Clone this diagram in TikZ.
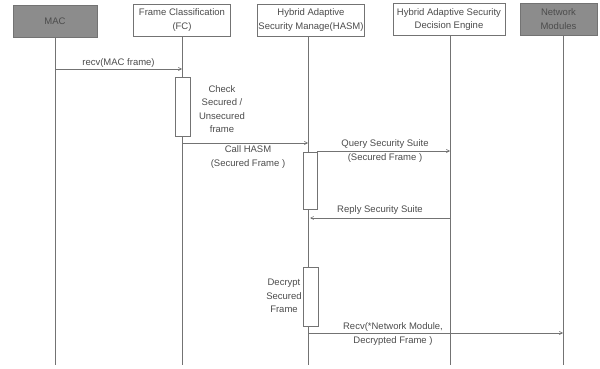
\documentclass[tikz,border=0pt]{standalone}
\usepackage{fontspec}
\setmainfont{Liberation Sans}
\usetikzlibrary{arrows.meta}
\definecolor{ln}{gray}{0.45}
\definecolor{tx}{gray}{0.3}
\definecolor{dk}{gray}{0.55}
\begin{document}
\begin{tikzpicture}[x=1pt,y=-1pt,
  hdr/.style={draw=ln,fill=white,minimum height=32pt,align=center,font=\fontsize{9.5}{13.5}\selectfont,text=tx,inner sep=1pt},
  hdrdark/.style={hdr,fill=dk},
  life/.style={draw=ln,line width=0.6pt},
  act/.style={draw=ln,fill=white,line width=0.6pt},
  msg/.style={draw=ln,line width=0.6pt,-{Straight Barb[length=3pt,width=3pt]}},
  lbl/.style={font=\fontsize{9.5}{13.5}\selectfont,text=tx,align=center,inner sep=0pt}]
\useasboundingbox (0,0) rectangle (600,369);
% headers
\node[hdrdark,minimum width=84pt] (mac) at (55,21.5) {MAC};
\node[hdr,minimum width=97pt] (fc) at (182,20) {Frame Classification\\(FC)};
\node[hdr,minimum width=107pt] (hasm) at (311,20) {Hybrid Adaptive\\Security Manage(HASM)};
\node[hdr,minimum width=112pt] (de) at (449,19.5) {Hybrid Adaptive Security\\Decision Engine};
\node[hdrdark,minimum width=77pt] (nm) at (558.5,19) {Network\\Modules};
% lifeline ends
\coordinate (macE) at (55,365);
\coordinate (fcE) at (182,365);
\coordinate (hasmE) at (308,365);
\coordinate (deE) at (450,365);
\coordinate (nmE) at (563,365);
\draw[life] (mac.south) -- (macE);
\draw[life] (fc.south) -- (fcE);
\draw[life] (hasm.south -| hasmE) -- (hasmE);
\draw[life] (de.south -| deE) -- (deE);
\draw[life] (nm.south -| nmE) -- (nmE);
% activation boxes
\draw[act] (175,77) rectangle (190,136);
\draw[act] (303,152) rectangle (317,209);
\draw[act] (303,267) rectangle (318,326);
% messages
\coordinate (m1a) at (55,69); \coordinate (m1b) at (182,69);
\draw[msg] (m1a) -- node[lbl,above=1.5pt] {recv(MAC frame)} (m1b);
\node[lbl] (chk) at (222,109) {Check\\Secured /\\Unsecured\\frame};
\coordinate (m2a) at (182,143); \coordinate (m2b) at (308,143);
\draw[msg] (m2a) -- (m2b);
\node[lbl] (m2l) at (248,157) {Call HASM\\(Secured Frame )};
\coordinate (m3a) at (317,151); \coordinate (m3b) at (450,151);
\draw[msg] (m3a) -- (m3b);
\node[lbl] (m3l) at (385,151) {Query Security Suite\\(Secured Frame )};
\coordinate (m4a) at (450,218); \coordinate (m4b) at (310,218);
\draw[msg] (m4a) -- node[lbl,above=3pt] {Reply Security Suite} (m4b);
\node[lbl] (dec) at (284,296) {Decrypt\\Secured\\Frame};
\coordinate (m5a) at (308,333); \coordinate (m5b) at (563,333);
\draw[msg] (m5a) -- (m5b);
\node[lbl] (m5l) at (393,334) {Recv(*Network Module,\\Decrypted Frame )};
\end{tikzpicture}
\end{document}
